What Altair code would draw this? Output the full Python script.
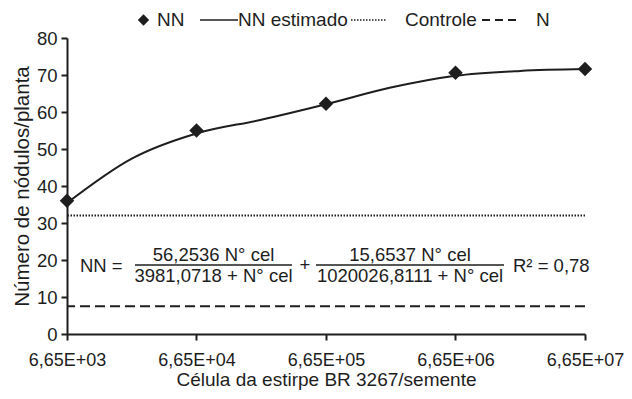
import altair as alt
import pandas as pd

# ---------------- data ----------------
cells = [6.65e3, 6.65e4, 6.65e5, 6.65e6, 6.65e7]
cell_labels = ["6,65E+03", "6,65E+04", "6,65E+05", "6,65E+06", "6,65E+07"]
nn_observed = [36.0, 55.0, 62.2, 70.6, 71.6]

# fitted curve (whole and half decades)
curve_cells = [6.65e3, 2.103e4, 6.65e4, 2.103e5, 6.65e5, 2.103e6, 6.65e6, 2.103e7, 6.65e7]
curve_nn = [35.4, 47.4, 54.2, 57.9, 62.1, 66.6, 69.8, 71.1, 71.6]

y_ticks = [0, 10, 20, 30, 40, 50, 60, 70, 80]

controle_value = 32.0
n_value = 7.5

FONT = "Liberation Sans"
INK = "#1e1e1e"
W, H = 518, 296

obs = pd.DataFrame({"cel": cells, "nn": nn_observed})
curve = pd.DataFrame({"cel": curve_cells, "nn": curve_nn})
ctrl_df = pd.DataFrame({"nn": [controle_value]})
n_df = pd.DataFrame({"nn": [n_value]})

# label expression built from the tick label list
expr = "''"
for c, lab in reversed(list(zip(cells, cell_labels))):
    expr = f"(abs(datum.value - {c}) < {c * 0.01}) ? '{lab}' : {expr}"

x_axis = alt.Axis(
    values=cells,
    labelExpr=expr,
    title="Célula da estirpe BR 3267/semente",
    grid=False,
    tickSize=6,
    labelPadding=11,
    titlePadding=1,
    labelFontSize=18,
    titleFontSize=19,
    labelFlush=False,
    labelOverlap=False,
)
y_axis = alt.Axis(
    values=y_ticks,
    tickCount=9,
    title="Número de nódulos/planta",
    grid=False,
    tickSize=6,
    labelPadding=4,
    titlePadding=4,
    labelFontSize=18.5,
    titleFontSize=20.5,
    labelFlush=False,
    labelOverlap=False,
)
x_scale = alt.Scale(type="log", domain=[cells[0], cells[-1]], nice=False)
y_scale = alt.Scale(domain=[0, 80], nice=False)

X = alt.X("cel:Q", scale=x_scale, axis=x_axis)
Y = alt.Y("nn:Q", scale=y_scale, axis=y_axis)

line = alt.Chart(curve).mark_line(
    color=INK, strokeWidth=2, interpolate="monotone"
).encode(x=X, y=Y)

points = alt.Chart(obs).mark_point(
    shape="diamond", filled=True, color=INK, size=210, opacity=1
).encode(x=X, y=Y)

controle = alt.Chart(ctrl_df).mark_rule(
    color=INK, strokeWidth=2, strokeDash=[1.5, 1.5]
).encode(y=Y)

nline = alt.Chart(n_df).mark_rule(
    color=INK, strokeWidth=2, strokeDash=[10, 5]
).encode(y=Y)

one = alt.Data(values=[{"k": 1}])


def label(txt, x, y, size=18.5, align="left", baseline="alphabetic"):
    return alt.Chart(one).mark_text(
        font=FONT, fontSize=size, color=INK, align=align, baseline=baseline
    ).encode(x=alt.value(x), y=alt.value(y), text=alt.value(txt))


def hline(x1, x2, y, dash=None, width=2):
    kw = dict(color=INK, strokeWidth=width)
    if dash:
        kw["strokeDash"] = dash
    return alt.Chart(one).mark_rule(**kw).encode(
        x=alt.value(x1), x2=alt.value(x2), y=alt.value(y)
    )


# legend (top)
ly = -18
LF = 19
legend = [
    alt.Chart(one).mark_point(shape="diamond", filled=True, color=INK, size=130, opacity=1).encode(
        x=alt.value(76.5), y=alt.value(ly)
    ),
    label("NN", 90, ly, LF, baseline="middle"),
    hline(133, 171, ly, width=1.6),
    label("NN estimado", 171, ly, LF, baseline="middle"),
    hline(284, 320, ly, dash=[1.5, 1.5], width=1.6),
    label("Controle", 338, ly, LF, baseline="middle"),
    hline(415, 453, ly, dash=[8, 5], width=2),
    label("N", 469, ly, LF, baseline="middle"),
]

# equation
equation = [
    label("NN =", 13, 234),
    label("56,2536 N° cel", 146.5, 223, align="center"),
    hline(68, 225, 227, width=1.3),
    label("3981,0718 + N° cel", 146.5, 244, align="center"),
    label("+", 238, 227, baseline="middle", align="center"),
    label("15,6537 N° cel", 343, 223, align="center"),
    hline(249, 437, 227, width=1.3),
    label("1020026,8111 + N° cel", 343, 244, align="center"),
    label("R² = 0,78", 446, 234),
]

chart = alt.layer(line, points, controle, nline, *legend, *equation).properties(
    width=W,
    height=H,
    autosize=alt.AutoSizeParams(type="none"),
    padding={"left": 59, "top": 30, "right": 39, "bottom": 57},
).configure_view(stroke=None).configure_axis(
    labelFont=FONT,
    titleFont=FONT,
    labelColor=INK,
    titleColor=INK,
    titleFontWeight="normal",
    domainColor=INK,
    domainWidth=2,
    tickColor=INK,
    tickWidth=2,
)

chart.save("out.html", embed_options={"renderer": "svg", "actions": False})
